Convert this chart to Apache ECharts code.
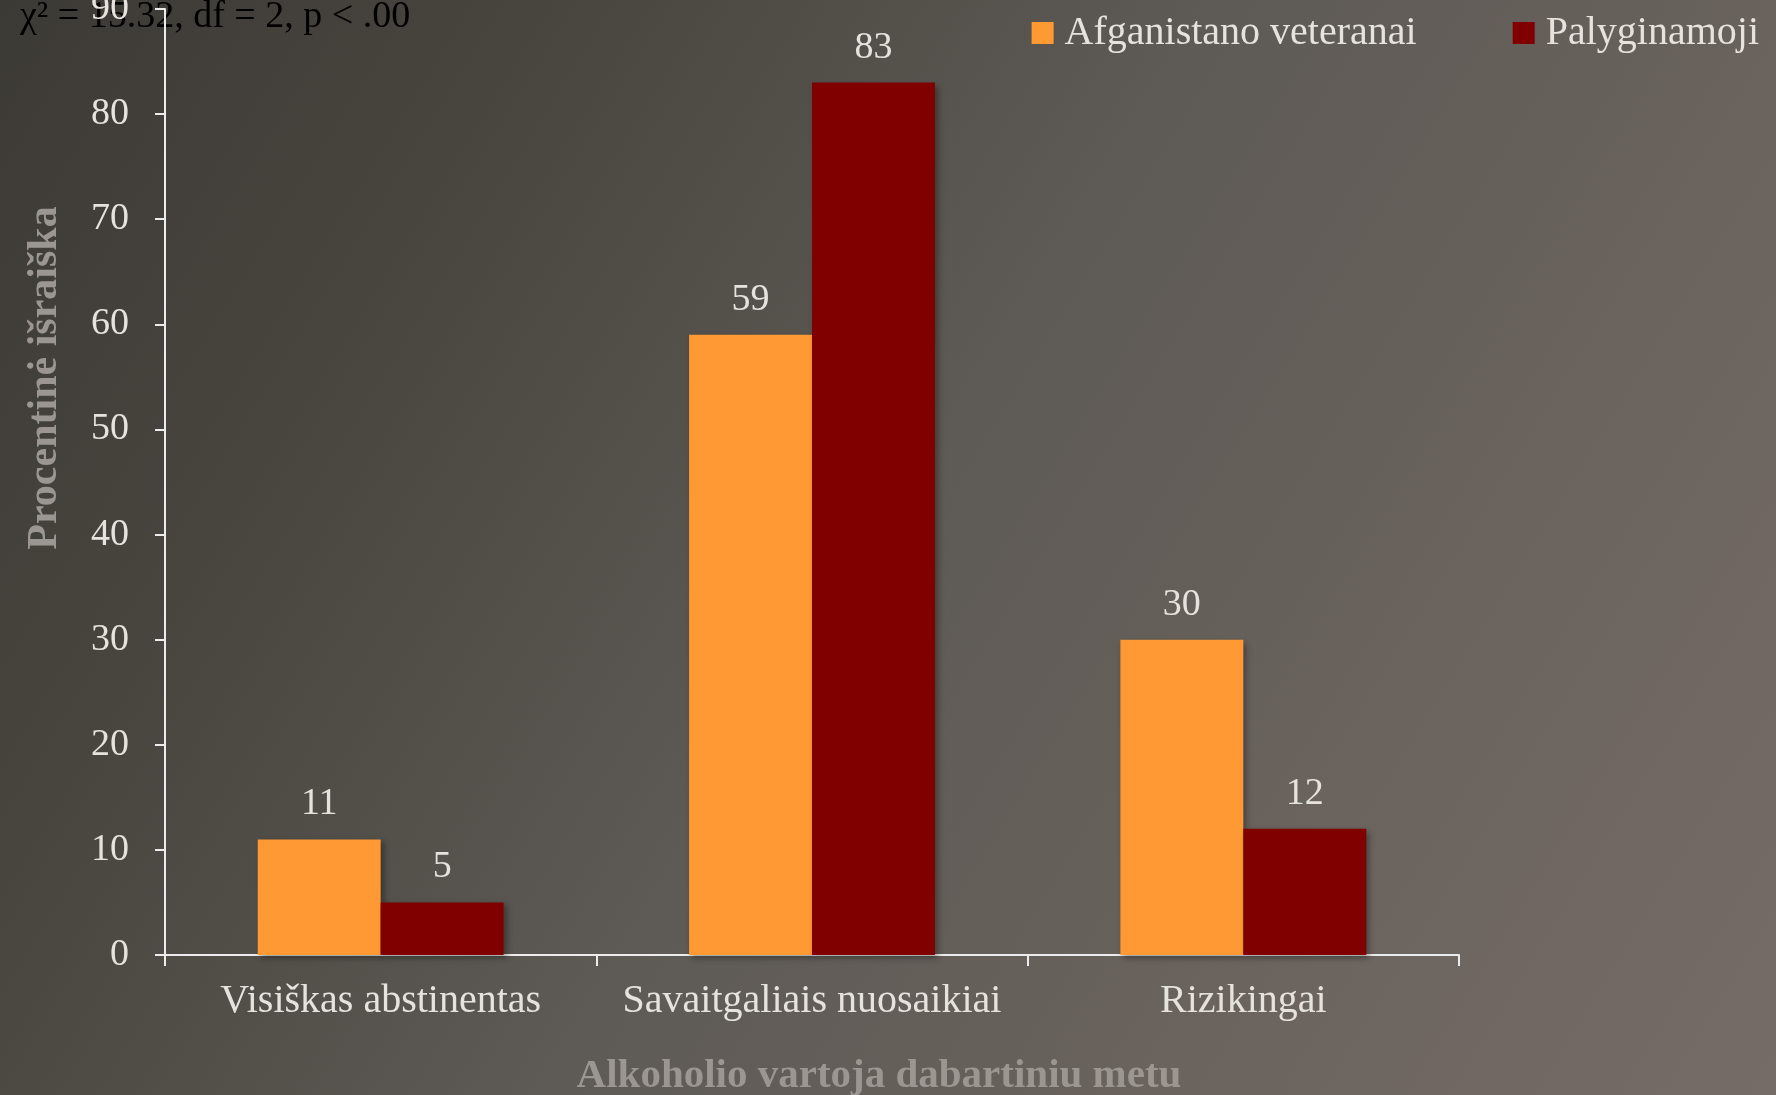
<!DOCTYPE html>
<html>
<head>
<meta charset="utf-8">
<script src="https://cdn.jsdelivr.net/npm/echarts@6/dist/echarts.min.js"></script>
<style>
html, body { margin: 0; padding: 0; }
#chart { width: 1776px; height: 1095px; }
</style>
</head>
<body>
<div id="chart"></div>
<script>
// kategorijos ir reikšmės
var categories = ["Visiškas abstinentas", "Savaitgaliais nuosaikiai", "Rizikingai"];
var seriesNames = ["Afganistano veteranai", "Palyginamoji"];
var veteranai = [11, 59, 30];
var palyginamoji = [5, 83, 12];
var yTicks = [0, 10, 20, 30, 40, 50, 60, 70, 80, 90];

var serif = "'Liberation Serif', 'DejaVu Serif', serif";
var lightText = "#e6e2de";

var myChart = echarts.init(document.getElementById("chart"));
myChart.setOption({
    backgroundColor: {
        type: "linear",
        x: 0, y: 0, x2: 1, y2: 1,
        colorStops: [
            { offset: 0, color: "#3c3a35" },
            { offset: 0.22, color: "#48453f" },
            { offset: 0.5, color: "#5e5a55" },
            { offset: 1, color: "#766c67" }
        ]
    },
    textStyle: { fontFamily: serif },
    legend: {
        top: 8,
        right: 12,
        itemWidth: 22,
        itemHeight: 22,
        itemGap: 96,
        icon: "rect",
        textStyle: { color: lightText, fontSize: 40, fontFamily: serif, padding: [0, 0, 0, 6] },
        data: seriesNames
    },
    grid: {
        left: 165,
        right: 317,
        top: 9,
        bottom: 140,
        outerBoundsMode: "none",
        containLabel: false
    },
    xAxis: {
        type: "category",
        data: categories,
        axisLine: { lineStyle: { color: "#ececec", width: 2 } },
        axisTick: { show: true, length: 11, lineStyle: { color: "#ececec", width: 2 } },
        axisLabel: { color: lightText, fontSize: 40, margin: 26, interval: 0, fontFamily: serif }
    },
    yAxis: {
        type: "value",
        min: yTicks[0],
        max: yTicks[yTicks.length - 1],
        interval: 10,
        axisLine: { show: true, lineStyle: { color: "#ececec", width: 2 } },
        axisTick: { show: true, length: 10, lineStyle: { color: "#ececec", width: 2 } },
        splitLine: { show: false },
        axisLabel: { color: lightText, fontSize: 38, margin: 36, fontFamily: serif }
    },
    series: [
        {
            name: seriesNames[0],
            type: "bar",
            data: veteranai,
            barGap: "0%",
            barCategoryGap: "43%",
            itemStyle: {
                color: "#ff9933",
                shadowColor: "rgba(0,0,0,0.35)",
                shadowBlur: 6,
                shadowOffsetX: 3,
                shadowOffsetY: 3
            },
            label: {
                show: true,
                position: "top",
                distance: 16,
                color: lightText,
                fontSize: 38,
                fontFamily: serif
            }
        },
        {
            name: seriesNames[1],
            type: "bar",
            data: palyginamoji,
            itemStyle: {
                color: "#800000",
                shadowColor: "rgba(0,0,0,0.35)",
                shadowBlur: 6,
                shadowOffsetX: 3,
                shadowOffsetY: 3
            },
            label: {
                show: true,
                position: "top",
                distance: 16,
                color: lightText,
                fontSize: 38,
                fontFamily: serif
            }
        }
    ],
    graphic: [
        {
            type: "text",
            left: 20,
            top: -2,
            style: {
                text: "χ² = 15.32, df = 2, p < .00",
                fill: "#000000",
                font: "38px " + serif
            }
        },
        {
            type: "text",
            x: 45,
            y: 378,
            rotation: Math.PI / 2,
            style: {
                text: "Procentinė išraiška",
                fill: "#9b9691",
                font: "bold 42px " + serif,
                align: "center",
                verticalAlign: "middle"
            }
        },
        {
            type: "text",
            x: 879,
            y: 1076,
            style: {
                text: "Alkoholio vartoja dabartiniu metu",
                fill: "#9b9691",
                font: "bold 41px " + serif,
                align: "center",
                verticalAlign: "middle"
            }
        }
    ]
}, true);
window.addEventListener("resize", function () {
    myChart.resize();
});
</script>
</body>
</html>
